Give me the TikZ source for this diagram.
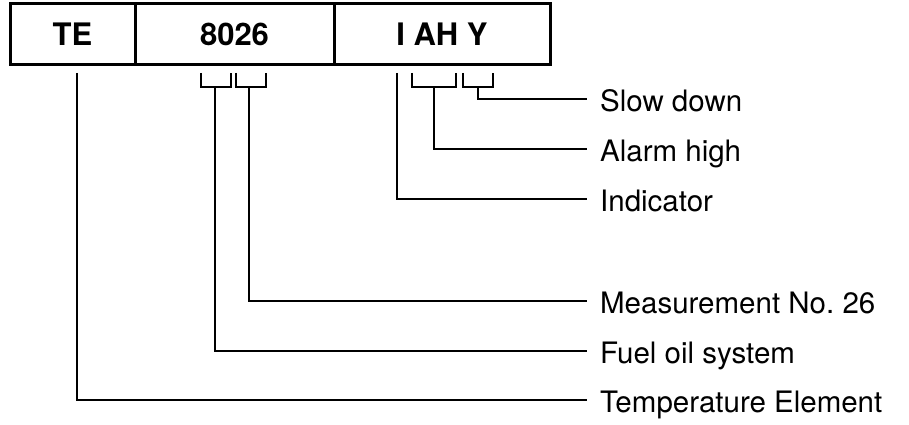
\documentclass[tikz,border=0pt]{standalone}
\usepackage{fontspec}
\setmainfont{TeX Gyre Heros}
\usetikzlibrary{positioning}

\begin{document}
\begin{tikzpicture}[x=1pt, y=-1pt, line width=2.3pt]

\tikzset{
    cell/.style={draw, line width=3pt, minimum height=61pt, inner sep=0pt, outer sep=0pt,
        font=\fontsize{31}{31}\selectfont\bfseries},
    lbl/.style={anchor=west, inner xsep=12pt, inner ysep=0pt, text height=26pt, text depth=2pt,
        font=\fontsize{29.5}{30}\selectfont}
}
\useasboundingbox (0,0) rectangle (909,425);

% Kennzeichen
\node[cell, minimum width=125pt, anchor=north west] (te) at (10,4) {TE};
\node[cell, minimum width=199pt, right=0pt of te] (nr) {8026};
\node[cell, minimum width=216pt, right=0pt of nr] (fkt) {I AH Y};

% Bedeutungen
\node[lbl] (slow) at (587,99) {Slow down};
\node[lbl] (alarm) at (587,149) {Alarm high};
\node[lbl] (ind) at (587,199) {Indicator};
\node[lbl] (meas) at (587,301) {Measurement No.\ 26};
\node[lbl] (fuel) at (587,351) {Fuel oil system};
\node[lbl] (temp) at (587,400) {Temperature Element};

% Klammern
\draw (201,73) -- (201,87) -- (231,87) -- (231,73);
\draw (236,73) -- (236,87) -- (266,87) -- (266,73);
\draw (412,73) -- (412,87) -- (456,87) -- (456,73);
\draw (463,73) -- (463,87) -- (493,87) -- (493,73);
\coordinate (sys) at (215,87);
\coordinate (mnr) at (249,87);
\coordinate (ah) at (434,87);
\coordinate (sd) at (478,87);
\coordinate (ii) at (397,73);
\coordinate (el) at (77,73);

% Linien
\draw (el) |- (temp.west);
\draw (sys) |- (fuel.west);
\draw (mnr) |- (meas.west);
\draw (ii) |- (ind.west);
\draw (ah) |- (alarm.west);
\draw (sd) |- (slow.west);

\end{tikzpicture}
\end{document}
